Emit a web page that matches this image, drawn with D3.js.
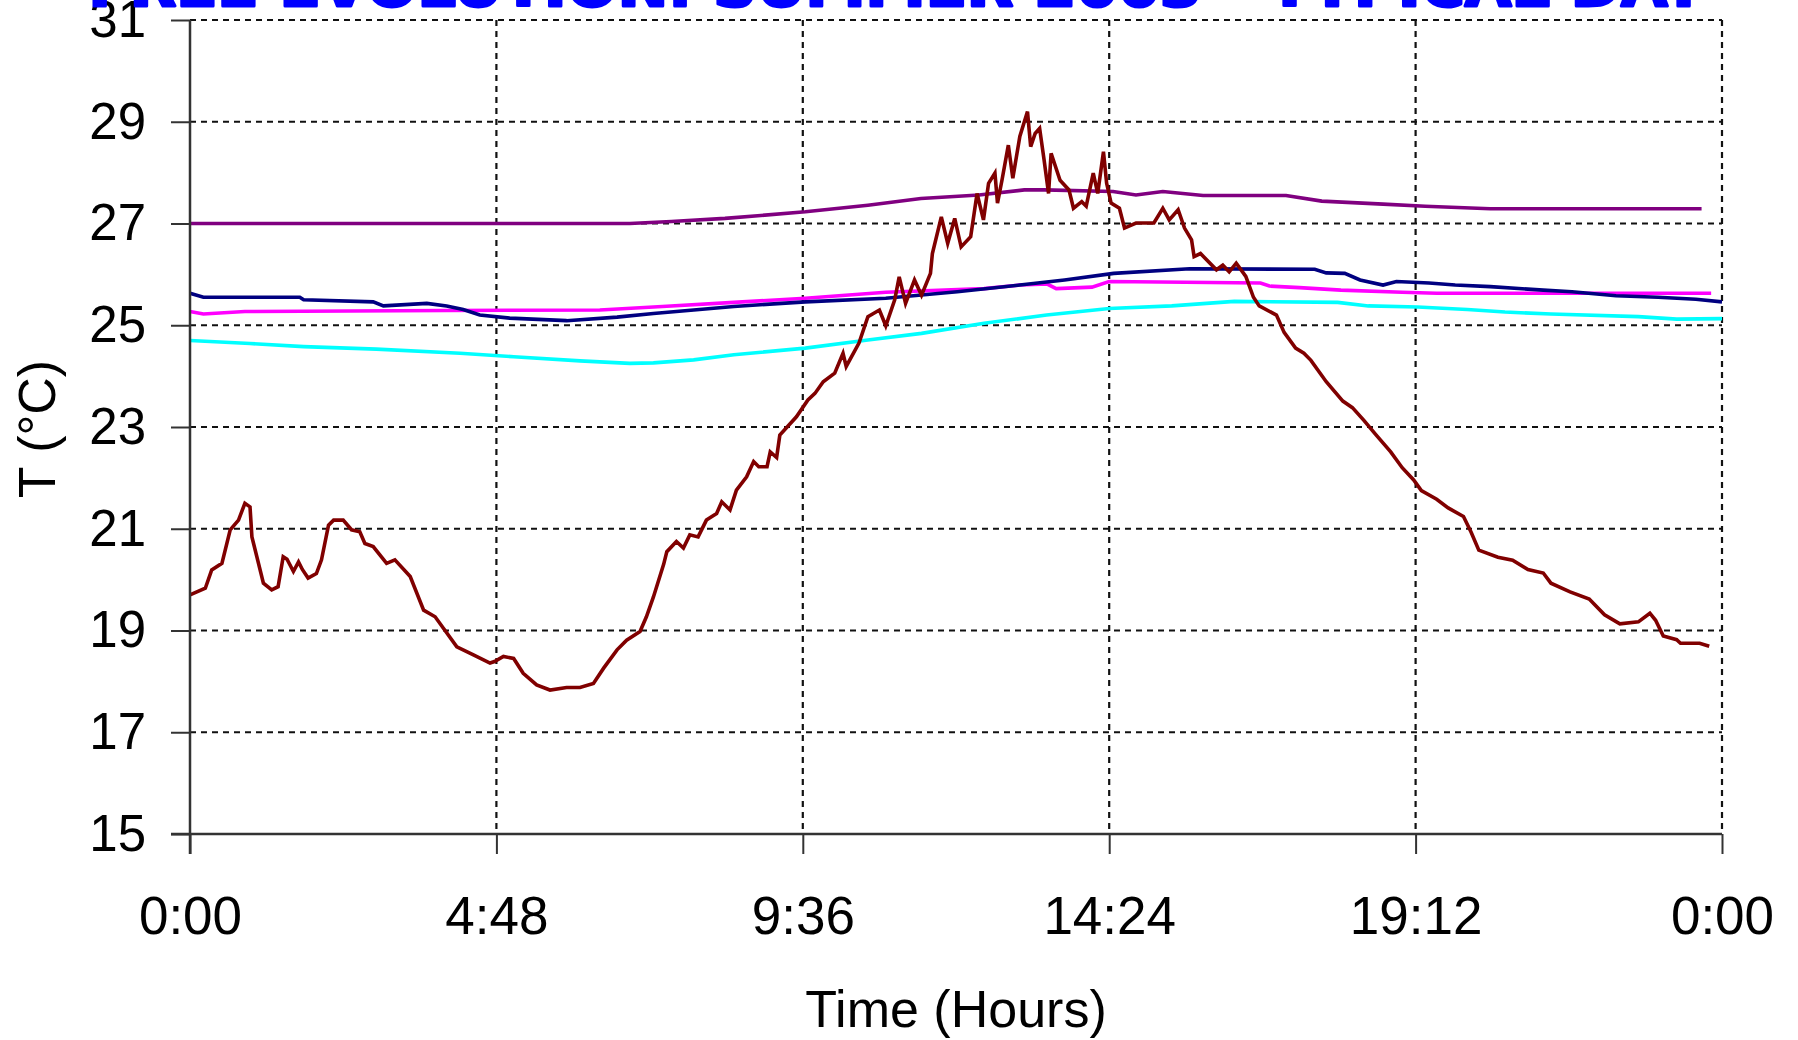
<!DOCTYPE html>
<html>
<head>
<meta charset="utf-8">
<script src="https://cdn.jsdelivr.net/npm/d3@7"></script>
<style>
  body { margin: 0; background: #fff; }
  svg { display: block; }
  .tick text { font-family: "Liberation Sans", Arial, sans-serif; }
</style>
</head>
<body>
<div id="chart"></div>
<script>
// hour of day, temperature (C)
var outdoor = [
  [0.00,19.70],[0.24,19.83],[0.34,20.19],[0.50,20.32],[0.63,20.98],[0.76,21.17],[0.86,21.50],[0.94,21.43],
  [0.97,20.84],[1.15,19.93],[1.28,19.80],[1.38,19.86],[1.46,20.45],[1.52,20.40],[1.62,20.16],[1.70,20.35],
  [1.76,20.20],[1.85,20.03],[1.98,20.12],[2.06,20.39],[2.17,21.07],[2.25,21.17],[2.40,21.17],[2.53,20.98],
  [2.66,20.94],[2.74,20.71],[2.87,20.65],[3.08,20.32],[3.21,20.39],[3.45,20.06],[3.66,19.40],[3.84,19.27],
  [4.18,18.68],[4.44,18.52],[4.70,18.36],[4.77,18.39],[4.91,18.49],[5.07,18.45],[5.22,18.16],[5.43,17.93],
  [5.64,17.83],[5.90,17.88],[6.11,17.88],[6.32,17.96],[6.48,18.26],[6.69,18.62],[6.84,18.81],[7.05,18.98],
  [7.15,19.27],[7.26,19.66],[7.42,20.30],[7.47,20.55],[7.62,20.75],[7.73,20.62],[7.83,20.88],[7.96,20.84],
  [8.09,21.17],[8.25,21.30],[8.33,21.53],[8.46,21.37],[8.56,21.76],[8.72,22.02],[8.83,22.32],[8.91,22.22],
  [9.04,22.22],[9.09,22.51],[9.19,22.40],[9.24,22.84],[9.50,23.20],[9.68,23.53],[9.79,23.66],[9.92,23.89],
  [10.10,24.06],[10.23,24.45],[10.28,24.19],[10.48,24.65],[10.62,25.17],[10.80,25.30],[10.90,24.99],[11.04,25.50],
  [11.11,25.95],[11.21,25.43],[11.35,25.89],[11.46,25.59],[11.60,26.02],[11.63,26.41],[11.77,27.13],[11.87,26.61],
  [11.98,27.10],[12.08,26.54],[12.23,26.74],[12.33,27.59],[12.43,27.07],[12.51,27.79],[12.61,27.99],[12.65,27.40],
  [12.72,27.85],[12.82,28.54],[12.89,27.89],[13.00,28.71],[13.12,29.20],[13.17,28.51],[13.24,28.77],[13.31,28.87],
  [13.38,28.25],[13.45,27.59],[13.49,28.38],[13.63,27.85],[13.77,27.66],[13.84,27.30],[13.97,27.43],[14.04,27.34],
  [14.15,27.99],[14.22,27.59],[14.31,28.41],[14.36,27.79],[14.43,27.40],[14.56,27.30],[14.64,26.91],[14.82,27.01],
  [15.10,27.01],[15.24,27.30],[15.34,27.07],[15.48,27.27],[15.58,26.91],[15.69,26.68],[15.73,26.35],[15.83,26.41],
  [16.08,26.09],[16.18,26.18],[16.28,26.05],[16.39,26.22],[16.54,25.96],[16.66,25.55],[16.75,25.38],[17.02,25.20],
  [17.14,24.86],[17.32,24.55],[17.45,24.45],[17.56,24.31],[17.80,23.89],[18.06,23.51],[18.21,23.38],[18.39,23.13],
  [18.57,22.86],[18.81,22.51],[18.99,22.20],[19.17,21.96],[19.29,21.75],[19.53,21.58],[19.71,21.41],[19.95,21.24],
  [20.07,20.93],[20.19,20.58],[20.49,20.44],[20.72,20.38],[20.96,20.20],[21.20,20.13],[21.32,19.93],[21.62,19.76],
  [21.92,19.62],[22.16,19.31],[22.40,19.13],[22.69,19.17],[22.87,19.34],[22.96,19.20],[23.08,18.89],[23.29,18.82],
  [23.35,18.75],[23.65,18.75],[23.80,18.69]
];

var purpleT = [
  [0,27.00],[6.89,27.00],[7.54,27.04],[8.38,27.10],[9.64,27.23],[10.62,27.36],[11.45,27.49],[12.36,27.56],
  [13.07,27.66],[13.38,27.66],[14.46,27.63],[14.82,27.56],[15.24,27.63],[15.87,27.55],[17.17,27.55],[17.73,27.44],
  [18.69,27.38],[19.35,27.34],[20.37,27.29],[23.68,27.29]
];

var navyT = [
  [0,25.63],[0.21,25.55],[1.72,25.55],[1.78,25.50],[2.87,25.46],[3.03,25.38],[3.71,25.43],[4.02,25.38],
  [4.28,25.31],[4.54,25.20],[5.01,25.14],[5.90,25.09],[6.69,25.16],[7.26,25.23],[8.52,25.37],[9.64,25.46],
  [10.90,25.53],[12.02,25.66],[13.00,25.79],[13.70,25.89],[14.47,26.02],[15.66,26.11],[17.62,26.10],[17.80,26.03],
  [18.09,26.02],[18.33,25.89],[18.69,25.79],[18.90,25.86],[19.41,25.83],[19.82,25.79],[20.37,25.76],[21.20,25.69],
  [21.65,25.66],[22.34,25.58],[23.00,25.55],[23.59,25.51],[24.00,25.46]
];

var magentaT = [
  [0,25.27],[0.21,25.22],[0.86,25.27],[4.02,25.29],[6.42,25.30],[7.40,25.37],[8.52,25.45],[9.64,25.53],
  [10.90,25.65],[12.44,25.72],[13.00,25.79],[13.43,25.81],[13.57,25.72],[14.13,25.75],[14.40,25.86],[16.77,25.83],
  [16.91,25.77],[17.38,25.74],[18.03,25.69],[18.99,25.65],[19.53,25.63],[23.83,25.63]
];

var cyanT = [
  [0,24.70],[0.94,24.64],[1.78,24.58],[2.92,24.53],[4.23,24.45],[5.07,24.38],[6.11,24.30],[6.89,24.25],
  [7.26,24.26],[7.89,24.32],[8.52,24.42],[9.64,24.55],[10.62,24.71],[11.46,24.84],[12.44,25.04],[13.42,25.20],
  [14.40,25.33],[15.38,25.38],[16.36,25.47],[17.98,25.45],[18.46,25.38],[19.23,25.36],[20.01,25.31],[20.60,25.26],
  [21.32,25.22],[22.69,25.17],[23.29,25.12],[24.00,25.13]
];

var xTicks = [0, 4.8, 9.6, 14.4, 19.2, 24];
var yTicks = [15, 17, 19, 21, 23, 25, 27, 29, 31];

var title = "FREE EVOLUTION: SUMMER 2003 - TYPICAL DAY";

var width = 1798;
var height = 1040;
var margin = {left: 190, top: 20, right: 76, bottom: 206};

var svg = d3.select('#chart').append('svg')
  .attr('width', width)
  .attr('height', height);

var x = d3.scaleLinear().domain([0, 24]).range([margin.left, width - margin.right]);
var y = d3.scaleLinear().domain([15, 31]).range([height - margin.bottom, margin.top]);

// dashed grid
svg.append('g').selectAll('line.hgrid')
  .data(yTicks.filter(function(d){ return d > 15; }))
  .enter().append('line')
    .attr('x1', x(0)).attr('x2', x(24))
    .attr('y1', function(d){ return y(d); })
    .attr('y2', function(d){ return y(d); })
    .attr('stroke', '#111')
    .attr('stroke-width', 2.2)
    .attr('stroke-dasharray', '6,5');

svg.append('g').selectAll('line.vgrid')
  .data(xTicks.filter(function(d){ return d > 0; }))
  .enter().append('line')
    .attr('x1', function(d){ return x(d); })
    .attr('x2', function(d){ return x(d); })
    .attr('y1', y(31)).attr('y2', y(15))
    .attr('stroke', '#111')
    .attr('stroke-width', 2.2)
    .attr('stroke-dasharray', '6,5');

// series
var line = d3.line()
  .x(function(d){ return x(d[0]); })
  .y(function(d){ return y(d[1]); });

var series = [
  {data: purpleT, color: '#800080'},
  {data: cyanT, color: '#00ffff'},
  {data: magentaT, color: '#ff00ff'},
  {data: navyT, color: '#000080'},
  {data: outdoor, color: '#800000'}
];

svg.append('g').selectAll('path')
  .data(series)
  .enter().append('path')
    .attr('d', function(d){ return line(d.data); })
    .attr('fill', 'none')
    .attr('stroke', function(d){ return d.color; })
    .attr('stroke-width', 3.6)
    .attr('stroke-linejoin', 'miter');

// axes
var yAxis = d3.axisLeft(y)
  .tickValues(yTicks)
  .tickSize(19)
  .tickPadding(25)
  .tickFormat(d3.format('d'));

var xAxis = d3.axisBottom(x)
  .tickValues(xTicks)
  .tickSize(20)
  .tickPadding(42)
  .tickFormat(function(d){
    var mins = Math.round(d * 60) % (24 * 60);
    return Math.floor(mins / 60) + ':' + d3.format('02d')(mins % 60);
  });

var gy = svg.append('g')
  .attr('transform', 'translate(' + x(0) + ',0)')
  .call(yAxis);
var gx = svg.append('g')
  .attr('transform', 'translate(0,' + y(15) + ')')
  .call(xAxis);

[gx, gy].forEach(function(g){
  g.select('.domain').attr('stroke', '#333').attr('stroke-width', 2.5);
  g.selectAll('.tick line').attr('stroke', '#333').attr('stroke-width', 2);
  g.selectAll('.tick text').attr('fill', '#000');
});
gy.select('.domain').attr('d', 'M0,' + y(31) + 'V' + (y(15) + 20));
gx.select('.domain').attr('d', 'M' + (x(0) - 19) + ',0H' + x(24));
gy.selectAll('.tick text').style('font-size', '51px');
gx.selectAll('.tick text').style('font-size', '53px');

// axis titles
svg.append('text')
  .attr('x', (x(0) + x(24)) / 2)
  .attr('y', 1027)
  .attr('text-anchor', 'middle')
  .style('font-family', '"Liberation Sans", Arial, sans-serif')
  .style('font-size', '52px')
  .text('Time (Hours)');

svg.append('text')
  .attr('transform', 'translate(55,' + (y(23) + 2) + ') rotate(-90)')
  .attr('text-anchor', 'middle')
  .style('font-family', '"Liberation Sans", Arial, sans-serif')
  .style('font-size', '52px')
  .text('T (\u00b0C)');

// title, cut off by the top of the picture
svg.append('text')
  .attr('x', 897)
  .attr('y', 6)
  .attr('text-anchor', 'middle')
  .attr('textLength', 1617)
  .attr('lengthAdjust', 'spacingAndGlyphs')
  .attr('fill', '#0000ff')
  .attr('stroke', '#0000ff')
  .attr('stroke-width', 3)
  .attr('stroke-linejoin', 'round')
  .style('font-family', '"DejaVu Sans", sans-serif')
  .style('font-weight', 'bold')
  .style('font-size', '58px')
  .text(title);
</script>
</body>
</html>
